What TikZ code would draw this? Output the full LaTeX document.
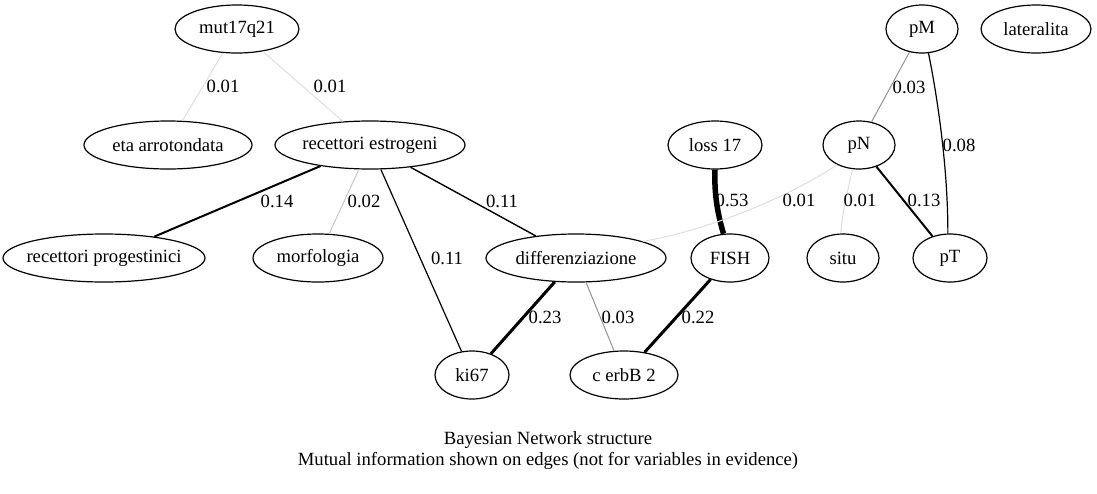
\documentclass[tikz,border=0pt]{standalone}
\usepackage{fontspec}
\setmainfont{Liberation Serif}
\usetikzlibrary{shapes.geometric}
\newcommand{\zb}[1]{\makebox[0pt]{#1}}
\begin{document}
\begin{tikzpicture}[x=1pt,y=-1pt,
  txt/.style={font=\fontsize{18.67pt}{21pt}\selectfont},
  nd/.style={ellipse, draw, line width=1.2pt, inner sep=0pt, minimum height=48pt, txt},
  lb/.style={txt, inner sep=0pt},
  e1/.style={draw=black!13, line width=1pt},
  e2/.style={draw=black!22, line width=1pt},
  e3/.style={draw=black!42, line width=1pt},
  e8/.style={draw=black, line width=1.2pt},
  e11/.style={draw=black, line width=1.4pt},
  e13/.style={draw=black, line width=2pt},
  e22/.style={draw=black, line width=3pt},
  e53/.style={draw=black, line width=5.5pt}]
\useasboundingbox (0,0) rectangle (1097,493);
% nodes
\node[nd, minimum width=124pt] (mut) at (237,29) {\zb{mut17q21}};
\node[nd, minimum width=168pt] (eta) at (168,145) {\zb{eta arrotondata}};
\node[nd, minimum width=190pt] (re) at (370,145) {\zb{recettori estrogeni}};
\node[nd, minimum width=202pt] (rp) at (104,258) {\zb{recettori progestinici}};
\node[nd, minimum width=130pt] (morf) at (318,258) {\zb{morfologia}};
\node[nd, minimum width=180pt] (diff) at (576,258) {\zb{differenziazione}};
\node[nd, minimum width=78pt] (fish) at (730,258) {\zb{FISH}};
\node[nd, minimum width=74pt] (ki) at (472,375) {\zb{ki67}};
\node[nd, minimum width=108pt] (cerb) at (624,375) {\zb{c erbB 2}};
\node[nd, minimum width=94pt] (loss) at (715,145) {\zb{loss 17}};
\node[nd, minimum width=72pt] (pN) at (859,145) {\zb{pN}};
\node[nd, minimum width=72pt] (situ) at (843,258) {\zb{situ}};
\node[nd, minimum width=74pt] (pT) at (950,258) {\zb{pT}};
\node[nd, minimum width=72pt] (pM) at (922,29) {\zb{pM}};
\node[nd, minimum width=110pt] (lat) at (1036,29) {\zb{lateralita}};
% edges
\draw[e1] (mut) -- (eta);
\draw[e1] (mut) -- (re);
\draw[e13] (re) -- (rp);
\draw[e2] (re) -- (morf);
\draw[e8] (re) -- (ki);
\draw[e11] (re) -- (diff);
\draw[e22] (diff) -- (ki);
\draw[e3] (diff) -- (cerb);
\draw[e22] (fish) -- (cerb);
\draw[e53] (loss.south) .. controls (714,195) and (718,215) .. (fish.105);
\draw[e1] (pN.-138) .. controls (800,190) and (720,228) .. (diff.14);
\draw[e1] (pN.-105) .. controls (848,190) and (842,212) .. (situ.95);
\draw[e13] (pN) -- (pT);
\draw[e3] (pM) -- (pN);
\draw[e8] (pM.-75) .. controls (938,100) and (948,170) .. (pT.95);
% edge labels
\node[lb] (l1) at (223,86) {0.01};
\node[lb] (l2) at (330,86) {0.01};
\node[lb] (l3) at (277,201) {0.14};
\node[lb] (l4) at (364,201) {0.02};
\node[lb] (l5) at (502,201) {0.11};
\node[lb] (l6) at (447,258) {0.11};
\node[lb] (l7) at (545,317) {0.23};
\node[lb] (l8) at (618,317) {0.03};
\node[lb] (l9) at (698,317) {0.22};
\node[lb] (l10) at (732,200) {0.53};
\node[lb] (l11) at (799,200) {0.01};
\node[lb] (l12) at (860,200) {0.01};
\node[lb] (l13) at (924,200) {0.13};
\node[lb] (l14) at (909,87) {0.03};
\node[lb] (l15) at (959,145) {0.08};
% title
\node[txt, align=center, inner sep=0pt] (title) at (548,451) {Bayesian Network structure\\Mutual information shown on edges (not for variables in evidence)};
\end{tikzpicture}
\end{document}
